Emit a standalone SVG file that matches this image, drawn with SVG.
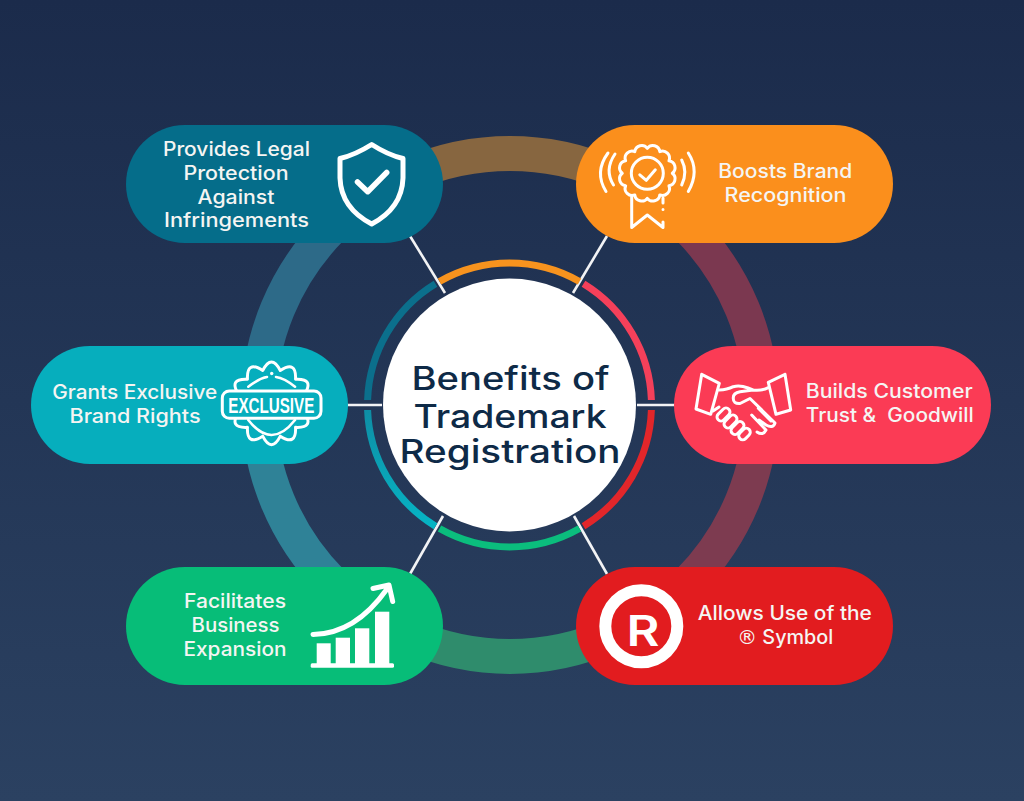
<svg xmlns="http://www.w3.org/2000/svg" width="1024" height="801" viewBox="0 0 1024 801">
<style>
text{font-family:"Inter","Open Sans","Liberation Sans",sans-serif;}
.lbl{font-size:19.5px;font-weight:500;fill:#f5f5f3;text-anchor:middle;white-space:pre;}
.title{font-size:32px;font-weight:500;fill:#0e2a47;text-anchor:middle;}
.ic{fill:none;stroke:#fff;stroke-linecap:round;stroke-linejoin:round;}
.ring{fill:none;stroke-width:35;}
.inner{fill:none;stroke-width:7;}
.conn{stroke:#f2f3f5;stroke-width:2.6;}
.solid{fill:#fff;}
</style>
<defs>
<linearGradient id="bg" x1="0" y1="0" x2="0" y2="1"><stop offset="0" stop-color="#1b2b4b"/><stop offset="1" stop-color="#2b4161"/></linearGradient>
<linearGradient id="innerTeal" x1="0" y1="0" x2="0" y2="1"><stop offset="0" stop-color="#0e8ea5"/><stop offset="1" stop-color="#06b4c4"/></linearGradient>
</defs>
<rect width="1024" height="801" fill="url(#bg)"/>
<g id="outer-ring">
<path class="ring" stroke="#876640" d="M332.2 227.2A251.5 251.5 0 0 1 687.8 227.2"/>
<path class="ring" stroke="#7b3850" d="M687.8 227.2A251.5 251.5 0 0 1 761.5 405"/>
<path class="ring" stroke="#7d3b50" d="M761.5 405A251.5 251.5 0 0 1 687.8 582.8"/>
<path class="ring" stroke="#2f8c6c" d="M687.8 582.8A251.5 251.5 0 0 1 332.2 582.8"/>
<path class="ring" stroke="#2f8297" d="M332.2 582.8A251.5 251.5 0 0 1 258.5 405"/>
<path class="ring" stroke="#2d6a88" d="M258.5 405A251.5 251.5 0 0 1 332.2 227.2"/>
</g>
<g id="connectors">
<line class="conn" x1="410" y1="236" x2="445" y2="293"/>
<line class="conn" x1="607" y1="236" x2="573" y2="293"/>
<line class="conn" x1="346" y1="405" x2="382" y2="405"/>
<line class="conn" x1="637" y1="405" x2="676" y2="405"/>
<line class="conn" x1="410" y1="574" x2="443" y2="516"/>
<line class="conn" x1="607" y1="574" x2="574" y2="516"/>
</g>
<g id="center">
<path class="inner" stroke="#f7931e" d="M439.5 281.5A142 142 0 0 1 579.5 281.5"/>
<path class="inner" stroke="#f5405a" d="M583.5 283.8A142 142 0 0 1 651.4 400"/>
<path class="inner" stroke="#e2262a" d="M651.4 410A142 142 0 0 1 583.5 526.2"/>
<path class="inner" stroke="#0bbd7d" d="M579.5 528.5A142 142 0 0 1 439.5 528.5"/>
<path class="inner" stroke="url(#innerTeal)" d="M435.5 526.2A142 142 0 0 1 367.6 410"/>
<path class="inner" stroke="#0b6f8c" d="M367.6 400A142 142 0 0 1 435.5 283.8"/>
<circle cx="509.5" cy="405" r="126.5" fill="#fff"/>
<text class="title" x="510.5" y="390" textLength="198" lengthAdjust="spacingAndGlyphs">Benefits of</text>
<text class="title" x="510" y="427.5" textLength="193" lengthAdjust="spacingAndGlyphs">Trademark</text>
<text class="title" x="510" y="463" textLength="221" lengthAdjust="spacingAndGlyphs">Registration</text>
</g>
<g id="node-legal">
<rect x="126" y="125" width="317" height="118" rx="59" fill="#056d8a"/>
<text class="lbl" x="236.5" y="156" textLength="147" lengthAdjust="spacingAndGlyphs">Provides Legal</text>
<text class="lbl" x="236" y="180" textLength="105" lengthAdjust="spacingAndGlyphs">Protection</text>
<text class="lbl" x="236" y="203.5" textLength="77" lengthAdjust="spacingAndGlyphs">Against</text>
<text class="lbl" x="236.5" y="227" textLength="145" lengthAdjust="spacingAndGlyphs">Infringements</text>
<path class="ic" stroke-width="5" d="M371.7 144.5Q388 155 403 158.5V178Q402 208 371.7 224Q341 208 340 178V158.5Q355 155 371.7 144.5Z"/>
<path class="ic" stroke-width="5.5" d="M357.5 182L367.7 191.7L386.7 172.5"/>
</g>
<g id="node-recognition">
<rect x="576" y="125" width="317" height="118" rx="59" fill="#fb8f1c"/>
<text class="lbl" x="785.3" y="178.3" textLength="134" lengthAdjust="spacingAndGlyphs">Boosts Brand</text>
<text class="lbl" x="785.5" y="202.3" textLength="122" lengthAdjust="spacingAndGlyphs">Recognition</text>
<g transform="translate(647.3 173.3)">
<path class="ic" stroke-width="3" d="M25 0A7 7 0 0 1 21.65 12.5A7 7 0 0 1 12.5 21.65A7 7 0 0 1 0 25A7 7 0 0 1 -12.5 21.65A7 7 0 0 1 -21.65 12.5A7 7 0 0 1 -25 0A7 7 0 0 1 -21.65 -12.5A7 7 0 0 1 -12.5 -21.65A7 7 0 0 1 0 -25A7 7 0 0 1 12.5 -21.65A7 7 0 0 1 21.65 -12.5A7 7 0 0 1 25 0Z"/>
<circle class="ic" stroke-width="3" r="16"/>
<path class="ic" stroke-width="3" d="M-7.5 1.5L-1 7L8 -3.5"/>
</g>
<path class="ic" stroke-width="3" d="M631.7 197V227.5L647.3 215L663 227.5V222M663 209.5V209.5M663 198V203"/>
<path class="ic" stroke-width="3" d="M615 154Q604 170 613.5 185M608 153Q594 172 606 191.5M681.7 160Q688 172 681.7 185M688.3 153Q700 171 688.3 191.5"/>
</g>
<g id="node-exclusive">
<rect x="31" y="346" width="317" height="118" rx="59" fill="#06aebd"/>
<text class="lbl" x="134.8" y="399.3" textLength="165" lengthAdjust="spacingAndGlyphs">Grants Exclusive</text>
<text class="lbl" x="135" y="423.3" textLength="131" lengthAdjust="spacingAndGlyphs">Brand Rights</text>
<path class="ic" stroke-width="3" transform="translate(271.5 403.3)" d="M32.84 -8.8Q50 0 32.84 8.8Q43.3 25 24.04 24.04Q25 43.3 8.8 32.84Q0 50 -8.8 32.84Q-25 43.3 -24.04 24.04Q-43.3 25 -32.84 8.8Q-50 0 -32.84 -8.8Q-43.3 -25 -24.04 -24.04Q-25 -43.3 -8.8 -32.84Q0 -50 8.8 -32.84Q25 -43.3 24.04 -24.04Q43.3 -25 32.84 -8.8Z"/>
<path class="ic" stroke-width="2.6" d="M248.3 386.7Q260 378 267 377M276 377Q284 378 295 386.7M248.3 420Q271.5 450 295 420"/>
<circle class="solid" cx="271.7" cy="373.5" r="1.7"/>
<rect x="222.3" y="391" width="98.7" height="27.3" rx="7" fill="#06aebd" stroke="#fff" stroke-width="3"/>
<text x="271.3" y="413" font-size="22" font-weight="700" fill="#fff" text-anchor="middle" textLength="86" lengthAdjust="spacingAndGlyphs" style="font-family:'Liberation Sans',sans-serif">EXCLUSIVE</text>
</g>
<g id="node-trust">
<rect x="674" y="346" width="317" height="118" rx="59" fill="#fb3b55"/>
<text class="lbl" x="889.2" y="397.7" textLength="167" lengthAdjust="spacingAndGlyphs">Builds Customer</text>
<text class="lbl" x="889.8" y="422" textLength="168" lengthAdjust="spacingAndGlyphs">Trust &amp;  Goodwill</text>
<path class="ic" stroke-width="3" d="M701.7 374.3L719.3 383.3L710.7 414.3L696 409ZM785 374.3L768.3 382.3L776 414.3L790.7 410Z"/>
<path class="ic" stroke-width="3" d="M719.3 390Q727 390 733.3 386.7Q740 385 748 388L753 390M768.3 387.7Q762 391 753 390L740 391.7Q733 393 733.3 398Q733 404 740 403.5L750 398.5L775 423Q773 429 766 425M751.7 415L766 430Q763 436 757 432M758.3 408.3L771 421M713 411L719 407M766 425L759 420"/>
<g class="ic" stroke-width="3">
<rect x="716" y="410.5" width="15" height="8" rx="4" transform="rotate(-45 723.5 414.5)"/>
<rect x="723" y="417.5" width="15" height="8" rx="4" transform="rotate(-45 730.5 421.5)"/>
<rect x="730" y="424" width="15" height="8" rx="4" transform="rotate(-45 737.5 428)"/>
<rect x="738" y="430" width="13" height="8" rx="4" transform="rotate(-45 744.5 434)"/>
</g>
</g>
<g id="node-expansion">
<rect x="126" y="567" width="317" height="118" rx="59" fill="#07bd78"/>
<text class="lbl" x="235" y="608.3" textLength="102" lengthAdjust="spacingAndGlyphs">Facilitates</text>
<text class="lbl" x="235.5" y="632.3" textLength="88" lengthAdjust="spacingAndGlyphs">Business</text>
<text class="lbl" x="235" y="656" textLength="103" lengthAdjust="spacingAndGlyphs">Expansion</text>
<rect class="solid" x="316.7" y="643.3" width="14" height="21"/>
<rect class="solid" x="335.7" y="637.7" width="14.3" height="27"/>
<rect class="solid" x="355" y="628.3" width="14.3" height="36"/>
<rect class="solid" x="375" y="611.7" width="14.3" height="53"/>
<rect class="solid" x="310.7" y="663.3" width="83.3" height="4.4" rx="1.5"/>
<path class="ic" stroke-width="5" d="M313 634.5Q355 634 387 589M373 588.5L389 585L392.7 601.5"/>
</g>
<g id="node-symbol">
<rect x="576" y="567" width="317" height="118" rx="59" fill="#e21c1f"/>
<text class="lbl" x="784.8" y="620" textLength="174" lengthAdjust="spacingAndGlyphs">Allows Use of the</text>
<text class="lbl" x="785.3" y="644.3" textLength="96" lengthAdjust="spacingAndGlyphs"><tspan style="font-family:'DejaVu Sans',sans-serif;font-weight:400">®</tspan> Symbol</text>
<circle cx="641.3" cy="626.3" r="36" fill="none" stroke="#fff" stroke-width="12"/>
<text x="643" y="646" font-size="42" font-weight="600" fill="#fff" text-anchor="middle" textLength="33" lengthAdjust="spacingAndGlyphs">R</text>
</g>
</svg>
